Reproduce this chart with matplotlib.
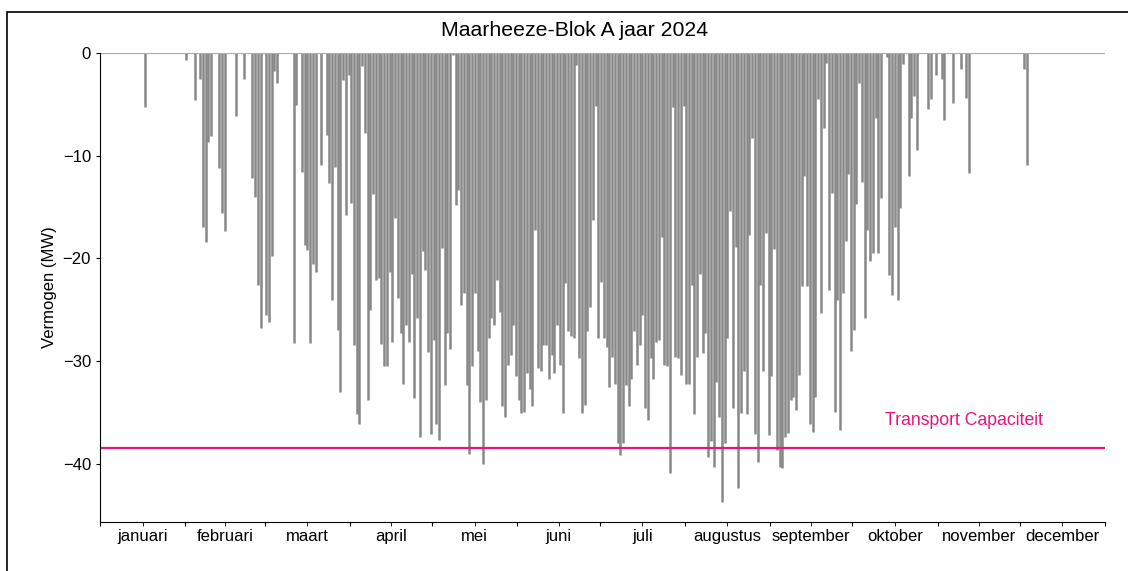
import matplotlib
matplotlib.use("Agg")
import matplotlib.pyplot as plt
import numpy as np
from matplotlib.patches import Rectangle

plt.rcParams["font.family"] = ["Liberation Sans", "DejaVu Sans"]

# daily minimum power (MW), one list per month
jan = [0, 0, 0, 0, 0, 0, 0, 0, 0, 0, 0, 0, 0, 0, 0, 0, -5.3, 0, 0, 0,
       0, 0, 0, 0, 0, 0, 0, 0, 0, 0, 0]
feb = [-0.7, 0, 0, -4.6, 0, -2.5, -16.9, -18.4, -8.7, -8.1, 0, 0, -11.2, -15.6, -17.3,
       0, 0, 0, -6.1, 0, 0, -2.5, 0, 0, -12.2, -14.0, -22.6, -26.8, 0]
mar = [-25.5, -26.2, -19.8, -1.8, -2.9, 0, 0, 0, 0, 0, -28.2, -5.1, 0, -11.6, -18.7,
       -19.2, -28.2, -20.5, -21.3, 0, -10.9, 0, -8.0, -12.7, -24.1, -11.1, -27.0, -33.0,
       -2.6, -15.8, -2.1]
apr = [-14.6, -28.4, -35.2, -36.1, -1.3, -7.8, -33.8, -25.0, -13.7, -22.1, -21.9, -28.3,
       -30.5, -30.5, -21.3, -28.1, -16.1, -23.9, -27.3, -32.2, -26.5, -28.1, -21.5, -33.6,
       -25.8, -37.4, -19.3, -21.1, -29.1, -37.1]
may = [-27.9, -36.1, -37.7, -19.0, -32.3, -27.3, -28.8, -0.2, -14.8, -13.3, -24.5, -23.4,
       -32.3, -39.0, -30.5, -23.4, -29.0, -34.0, -40.0, -33.8, -27.8, -25.8, -26.5, -22.1,
       -25.2, -34.4, -35.4, -30.4, -29.4, -26.5, -31.5]
jun = [-33.8, -35.1, -35.0, -31.2, -32.7, -34.4, -17.2, -30.7, -31.0, -28.4, -28.4, -31.7,
       -29.4, -31.2, -26.5, -30.4, -35.1, -22.4, -27.1, -27.6, -27.8, -1.2, -29.7, -35.1,
       -34.3, -27.1, -24.7, -16.3, -5.2, -27.8]
jul = [-22.3, -27.8, -28.6, -32.5, -29.6, -32.2, -38.0, -39.1, -38.0, -32.3, -34.4, -31.7,
       -27.1, -30.4, -28.4, -25.5, -34.6, -35.7, -29.7, -31.7, -28.1, -27.9, -17.9, -30.4,
       -30.5, -40.9, -5.3, -29.6, -29.7, -31.4, -5.2]
aug = [-32.2, -32.2, -22.6, -35.2, -29.6, -21.5, -29.2, -27.3, -39.3, -37.8, -40.3, -32.0,
       -35.4, -43.7, -38.0, -27.8, -15.4, -34.6, -18.9, -42.4, -35.1, -31.0, -35.2, -17.7,
       -8.3, -37.1, -39.8, -22.6, -31.0, -17.5, -37.2]
sep = [-31.5, -19.1, -38.7, -40.3, -40.4, -37.4, -37.0, -33.8, -33.5, -34.8, -31.4, -22.7,
       -12.0, -22.7, -36.1, -36.9, -33.5, -4.5, -25.3, -7.3, -1.0, -23.1, -13.6, -35.0,
       -24.1, -36.7, -23.4, -18.3, -11.8, -29.0]
okt = [-27.0, -14.7, -2.9, -12.6, -25.8, -17.2, -20.3, -19.5, -6.3, -19.5, -14.1, 0, -0.4,
       -21.6, -23.6, -16.9, -24.1, -15.1, -1.1, 0, -12.0, -6.3, -4.2, -9.4, 0, 0, 0, -5.5,
       -4.5, 0, -2.1]
nov = [0, -2.5, -6.5, 0, 0, -4.9, 0, 0, -1.6, 0, -4.4, -11.7, 0, 0, 0, 0, 0, 0, 0, 0,
       0, 0, 0, 0, 0, 0, 0, 0, 0, 0]
dec = [0, -1.6, -10.9, 0, 0, 0, 0, 0, 0, 0, 0, 0, 0, 0, 0, 0, 0, 0, 0, 0,
       0, 0, 0, 0, 0, 0, 0, 0, 0, 0, 0]

months = ["januari", "februari", "maart", "april", "mei", "juni", "juli",
          "augustus", "september", "oktober", "november", "december"]
transport_capaciteit = -38.5

data = [jan, feb, mar, apr, may, jun, jul, aug, sep, okt, nov, dec]
values = np.concatenate([np.array(m, dtype=float) for m in data])
days = np.arange(len(values)) + 0.5
month_len = [len(m) for m in data]
month_start = np.concatenate([[0], np.cumsum(month_len)])
month_mid = month_start[:-1] + np.array(month_len) / 2

fig = plt.figure(figsize=(11.28, 5.71), dpi=100)
fig.patches.append(Rectangle((7 / 1128, -0.2), 2.0, 1.2 - 12 / 571, transform=fig.transFigure,
                             fill=False, edgecolor="black", linewidth=1.2))
ax = fig.add_axes([100 / 1128, 49 / 571, 1005 / 1128, 469 / 571])

ax.vlines(days, values, 0, color="#888888", linewidth=1.8)
ax.axhline(0, color="#aaaaaa", linewidth=0.8)
ax.axhline(transport_capaciteit, color="#e5157f", linewidth=1.6)
ax.text(month_start[-1] - 22.6, transport_capaciteit + 1.9, "Transport Capaciteit",
        color="#e5157f", fontsize=12.7, ha="right", va="bottom")

ax.set_xlim(0, month_start[-1])
ax.set_ylim(-45.67, 0)
ax.set_xticks(month_start)
ax.set_xticklabels([])
ax.set_xticks(month_mid, minor=True)
ax.set_xticklabels(months, minor=True, fontsize=12)
ax.tick_params(axis="x", which="both", length=3, pad=2)
ax.set_yticks([-40, -30, -20, -10, 0])
ax.tick_params(axis="y", labelsize=12, length=3)
ax.set_ylabel("Vermogen (MW)", fontsize=12)
ax.spines["top"].set_visible(False)
ax.spines["right"].set_visible(False)
fig.text(574.5 / 1128, 1 - 31 / 571, "Maarheeze-Blok A jaar 2024", fontsize=15.3,
         ha="center", va="center")

fig.savefig("out.png", dpi=100)
